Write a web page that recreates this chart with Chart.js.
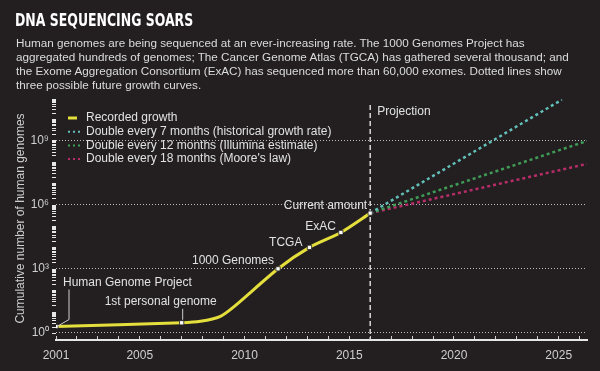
<!DOCTYPE html>
<html>
<head>
<meta charset="utf-8">
<script src="https://cdn.jsdelivr.net/npm/chart.js@4.4.0/dist/chart.umd.min.js"></script>
<style>
  html, body { margin: 0; padding: 0; background: #231f20; }
  #wrap { position: relative; width: 600px; height: 371px; overflow: hidden; }
  #chart { position: absolute; left: 0; top: 0; }
  h1 { position: absolute; left: 15px; top: 9px; margin: 0; color: #fff; white-space: nowrap;
       font: bold 18px "DejaVu Sans Condensed", "DejaVu Sans", sans-serif;
       transform: scaleX(0.77); transform-origin: 0 0; }
  #intro { position: absolute; left: 16px; top: 36px; margin: 0; color: #dcdcdc;
       font: 11.7px "Liberation Sans", sans-serif; line-height: 14px; white-space: nowrap; }
</style>
</head>
<body>
<div id="wrap">
  <canvas id="chart" width="600" height="371"></canvas>
  <h1>DNA SEQUENCING SOARS</h1>
  <p id="intro">Human genomes are being sequenced at an ever-increasing rate. The 1000 Genomes Project has<br>aggregated hundreds of genomes; The Cancer Genome Atlas (TGCA) has gathered several thousand; and<br>the Exome Aggregation Consortium (ExAC) has sequenced more than 60,000 exomes. Dotted lines show<br>three possible future growth curves.</p>
</div>
<script>
// recorded growth (cumulative genomes)
const recordedYears = [2001, 2007, 2007.9, 2008.85, 2009.5, 2011.6, 2013.1, 2014.6, 2016];
const recordedGenomes = [2, 3, 3.5, 6, 17, 1000, 10000, 50000, 400000];

// milestones on the recorded curve
const milestoneNames = ["Human Genome Project", "1st personal genome", "1000 Genomes", "TCGA", "ExAC", "Current amount"];
const milestoneYears = [2001, 2007, 2011.6, 2013.1, 2014.6, 2016];
const milestoneGenomes = [2, 3, 1000, 10000, 50000, 400000];

// projections from the current amount
const projectionStart = 2016;
const fastYears = [2016, 2025.15];
const fastGenomes = [400000, 8e10];
const mediumYears = [2016, 2026.35];
const mediumGenomes = [400000, 9.4e8];
const slowYears = [2016, 2026.35];
const slowGenomes = [400000, 8e7];

const seriesNames = ["Recorded growth", "Double every 7 months (historical growth rate)",
  "Double every 12 months (Illumina estimate)", "Double every 18 months (Moore's law)"];

const xTickLabels = [2001, 2005, 2010, 2015, 2020, 2025];
const yTickValues = [1, 1e3, 1e6, 1e9];
const yTickLabels = ["10\u2070", "10\u00b3", "10\u2076", "10\u2079"];

const pts = (xs, ys) => xs.map((x, i) => ({ x: x, y: ys[i] }));

const BG = "#231f20";
const TEXT = "#e2e2e2";
const FONT = '"Liberation Sans", sans-serif';

// label placement relative to each milestone marker
const labelPlacement = [
  { dx: 7, dy: -44, align: "left", leader: [[1, 0], [13, -7], [13, -37]] },
  { dx: -21, dy: -21, align: "center", leader: [[1, -3], [1, -14]] },
  { dx: -4, dy: -8, align: "right" },
  { dx: -7, dy: -5, align: "right" },
  { dx: -5, dy: -6, align: "right" },
  { dx: -3, dy: -7, align: "right" }
];

const insideLegend = {
  id: "insideLegend",
  afterDraw(chart) {
    const ctx = chart.ctx, area = chart.chartArea;
    ctx.save();
    ctx.font = "12px " + FONT;
    ctx.textBaseline = "middle";
    let y = area.top + 21;
    chart.data.datasets.forEach(ds => {
      if (!ds.inLegend) return;
      ctx.strokeStyle = ds.borderColor;
      ctx.lineWidth = ds.borderDash ? 2 : 3;
      ctx.setLineDash(ds.borderDash ? [2, 3] : []);
      ctx.beginPath();
      ctx.moveTo(area.left + 12, y);
      ctx.lineTo(area.left + (ds.borderDash ? 27 : 21), y);
      ctx.stroke();
      ctx.setLineDash([]);
      ctx.fillStyle = TEXT;
      ctx.fillText(ds.label, area.left + 30, y);
      y += 13.7;
    });
    // y axis tick marks (the dotted look of the axis)
    const ys = chart.scales.y;
    ctx.fillStyle = "#e8e8e8";
    ys.ticks.forEach(t => {
      const ty = Math.round(ys.getPixelForValue(t.value));
      if (ty >= area.top && ty <= area.bottom) ctx.fillRect(area.left - 4, ty, 4, 1);
    });
    ctx.restore();
  }
};

const annotations = {
  id: "annotations",
  beforeDatasetsDraw(chart) {
    const ctx = chart.ctx, area = chart.chartArea;
    const px = chart.scales.x.getPixelForValue(projectionStart);
    ctx.save();
    ctx.strokeStyle = "#d8d8d8";
    ctx.lineWidth = 1.5;
    ctx.setLineDash([5, 3]);
    ctx.beginPath();
    ctx.moveTo(px, area.top + 8);
    ctx.lineTo(px, area.bottom);
    ctx.stroke();
    ctx.setLineDash([]);
    ctx.fillStyle = TEXT;
    ctx.font = "12px " + FONT;
    ctx.textBaseline = "middle";
    ctx.textAlign = "left";
    ctx.fillText("Projection", px + 7, area.top + 15);
    ctx.restore();
  },
  afterDatasetsDraw(chart) {
    const ctx = chart.ctx, xs = chart.scales.x, ys = chart.scales.y;
    ctx.save();
    ctx.font = "12px " + FONT;
    ctx.textBaseline = "middle";
    milestoneNames.forEach((name, i) => {
      const mx = xs.getPixelForValue(milestoneYears[i]);
      const my = ys.getPixelForValue(milestoneGenomes[i]);
      const p = labelPlacement[i];
      if (p.leader) {
        ctx.strokeStyle = "#cfcfcf";
        ctx.lineWidth = 1;
        ctx.beginPath();
        p.leader.forEach(([lx, ly], k) => k ? ctx.lineTo(mx + lx, my + ly) : ctx.moveTo(mx + lx, my + ly));
        ctx.stroke();
      }
      ctx.fillStyle = TEXT;
      ctx.textAlign = p.align;
      ctx.fillText(name, mx + p.dx, my + p.dy);
    });
    ctx.restore();
  }
};

const isMajor = v => yTickValues.some(t => Math.abs(v - t) / t < 1e-6);

new Chart(document.getElementById("chart"), {
  type: "line",
  data: {
    datasets: [
      { label: seriesNames[0], data: pts(recordedYears, recordedGenomes), borderColor: "#e4df3c",
        borderWidth: 3, pointRadius: 0, tension: 0.25, inLegend: true, order: 1 },
      { label: seriesNames[1], data: pts(fastYears, fastGenomes), borderColor: "#62bfb9",
        borderWidth: 2.5, borderDash: [3, 3], pointRadius: 0, inLegend: true, order: 2 },
      { label: seriesNames[2], data: pts(mediumYears, mediumGenomes), borderColor: "#3f9c57",
        borderWidth: 2.5, borderDash: [3, 3], pointRadius: 0, inLegend: true, order: 2 },
      { label: seriesNames[3], data: pts(slowYears, slowGenomes), borderColor: "#b82d69",
        borderWidth: 2.5, borderDash: [3, 3], pointRadius: 0, inLegend: true, order: 2 },
      { label: "milestones", data: pts(milestoneYears, milestoneGenomes), showLine: false,
        pointStyle: "rect", pointRadius: 3, backgroundColor: "#ffffff", borderColor: BG,
        borderWidth: 0.8, order: 0 }
    ]
  },
  options: {
    responsive: false,
    animation: false,
    layout: { padding: { top: 97, right: 13, left: 0, bottom: 0 } },
    plugins: { legend: { display: false }, tooltip: { enabled: false } },
    scales: {
      x: {
        type: "linear",
        min: 2001,
        max: 2026.35,
        afterBuildTicks: s => {
          const t = [];
          for (let yr = 2001; yr <= 2026; yr++) t.push({ value: yr });
          s.ticks = t;
        },
        afterFit: s => { s.height = 31; },
        ticks: {
          autoSkip: false, maxRotation: 0, padding: 12, color: "#cfcfcf",
          font: { family: FONT, size: 12 },
          callback: v => xTickLabels.includes(v) ? String(v) : ""
        },
        grid: { drawOnChartArea: false, tickLength: -4, tickColor: "#d0d0d0", tickWidth: 1 },
        border: { display: true, color: "#e6e6e6", width: 2 }
      },
      y: {
        type: "logarithmic",
        min: 0.47,
        max: 1.07e11,
        afterBuildTicks: s => {
          const t = [];
          for (let e = 0; e <= 10; e++) for (let m = 1; m <= 9; m++) t.push({ value: m * Math.pow(10, e) });
          s.ticks = t;
        },
        afterFit: s => { s.width = 56; },
        ticks: {
          autoSkip: false, padding: 7, color: "#cfcfcf",
          font: { family: FONT, size: 12 },
          callback: v => {
            const i = yTickValues.findIndex(t => Math.abs(v - t) / t < 1e-6);
            return i >= 0 ? yTickLabels[i] : "";
          }
        },
        grid: {
          color: c => (c.tick && isMajor(c.tick.value)) ? "rgba(215,215,215,0.85)" : "rgba(0,0,0,0)",
          lineWidth: 1, drawTicks: false
        },
        border: { display: false, dash: [1, 2] },
        title: {
          display: true, text: "Cumulative number of human genomes", color: "#cfcfcf",
          font: { family: FONT, size: 12 }, padding: { top: 13, bottom: 0 }
        }
      }
    }
  },
  plugins: [insideLegend, annotations]
});
</script>
</body>
</html>
